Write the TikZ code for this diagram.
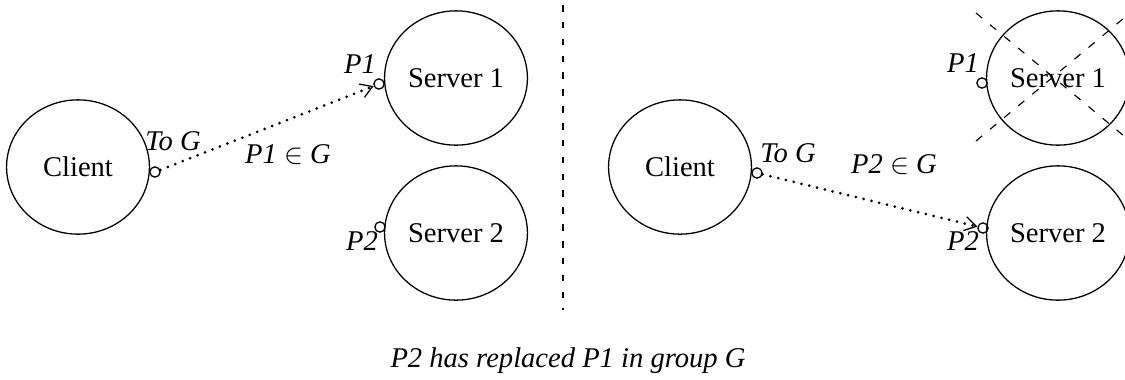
\documentclass[tikz,border=0pt]{standalone}
\usepackage{fontspec}
\setmainfont{Liberation Serif}
\usetikzlibrary{shapes.geometric,arrows.meta}

\begin{document}
\begin{tikzpicture}[x=0.35pt,y=-0.35pt,
  proc/.style={draw,line width=0.45pt,ellipse,inner sep=0pt,minimum width=50pt,minimum height=47pt},
  port/.style={draw,line width=0.45pt,circle,inner sep=0pt,minimum size=3.6pt},
  lbl/.style={font=\itshape,inner sep=0pt,anchor=base},
  msg/.style={line width=1.05pt,line cap=round,dash pattern=on 0pt off 2.8pt,
    -{Straight Barb[length=4pt,width=5pt,line width=0.45pt]}},
  divider/.style={line width=0.4pt,dash pattern=on 2.3pt off 3.6pt},
  cross/.style={line width=0.4pt,dash pattern=on 2.8pt off 3.6pt}]
\clip (0,0) rectangle (1125,379);

% before
\node[proc] (C1) at (78,167) {Client};
\node[proc] (S11) at (456,78) {Server 1};
\node[proc] (S12) at (456,233) {Server 2};
\node[port] (c1p) at (155,172) {};
\node[port] (s11p) at (379,84) {};
\node[port] (s12p) at (380,227) {};
\node[lbl] (tog1) at (173,150) {To G};
\node[lbl] (in1) at (288,163) {P1 $\in$ G};
\node[lbl] (p11) at (360,73) {P1};
\node[lbl] (p12) at (362,250) {P2};
\draw[msg] (c1p) -- (s11p);

\draw[divider] (563,5) -- (563,310);

% after
\node[proc] (C2) at (680,167) {Client};
\node[proc] (S21) at (1058,78) {Server 1};
\node[proc] (S22) at (1058,233) {Server 2};
\node[port] (c2p) at (757,173) {};
\node[port] (s21p) at (982,83) {};
\node[port] (s22p) at (983,228) {};
\node[lbl] (tog2) at (788,162) {To G};
\node[lbl] (in2) at (894,173) {P2 $\in$ G};
\node[lbl] (p21) at (963,72) {P1};
\node[lbl] (p22) at (963,250) {P2};
\draw[msg] (c2p) -- (s22p);

\draw[cross] (976,13) -- (1130,141);
\draw[cross] (976,141) -- (1130,13);

\node[lbl] (cap) at (568,367) {P2 has replaced P1 in group G};
\end{tikzpicture}
\end{document}
